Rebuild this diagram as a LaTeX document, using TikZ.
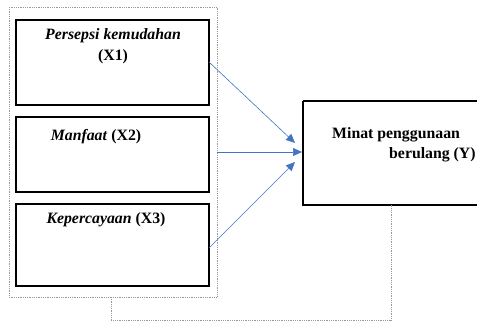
\documentclass[tikz,border=0pt]{standalone}
\usepackage{fontspec}
\setmainfont{Liberation Serif}
\usetikzlibrary{arrows.meta}
\definecolor{arrowblue}{RGB}{68,114,196}
\tikzset{
  varbox/.style={draw=black, line width=1.3pt},
  dotbox/.style={draw=gray!80, densely dotted, line width=0.8pt},
  link/.style={draw=arrowblue, line width=0.6pt, -{Triangle[length=9pt,width=8pt]}},
  lbl/.style={font=\fontsize{15.8}{18}\selectfont\bfseries, inner sep=0pt}
}
\begin{document}
\begin{tikzpicture}[x=1pt,y=-1pt]
\useasboundingbox (0,0) rectangle (477,322);
% outer dotted group
\draw[dotbox] (9,7) rectangle (217,297);
\coordinate (grpR) at (217,152);
% variable boxes
\draw[varbox] (16,20) rectangle (209,105);
\draw[varbox] (16,117) rectangle (209,192);
\draw[varbox] (16,204) rectangle (209,286);
\draw[varbox] (303,101) -- (478,101) (303,101) -- (303,205) -- (478,205);
\coordinate (x1out) at (209,62);
\coordinate (x3out) at (209,248);
\coordinate (y1) at (295,143);
\coordinate (y2) at (302,152);
\coordinate (y3) at (295,162);
\node[lbl] (t1) at (113,36) {\itshape Persepsi kemudahan};
\node[lbl] (t1b) at (113,57) {(X1)};
\node[lbl] (t2) at (96,137) {\textit{Manfaat} (X2)};
\node[lbl] (t3) at (106,220) {\textit{Kepercayaan} (X3)};
\node[lbl, anchor=west] (ty1) at (332,135) {Minat penggunaan};
\node[lbl, anchor=west] (ty2) at (389,155) {berulang (Y)};
% arrows
\draw[link] (x1out) -- (y1);
\draw[link] (grpR) -- (y2);
\draw[link] (x3out) -- (y3);
% dotted feedback connector
\coordinate (fb1) at (111,297);
\coordinate (fb2) at (111,320);
\coordinate (fb3) at (391,320);
\coordinate (fb4) at (391,205);
\draw[dotbox] (fb1) -- (fb2) -- (fb3) -- (fb4);
\end{tikzpicture}
\end{document}
